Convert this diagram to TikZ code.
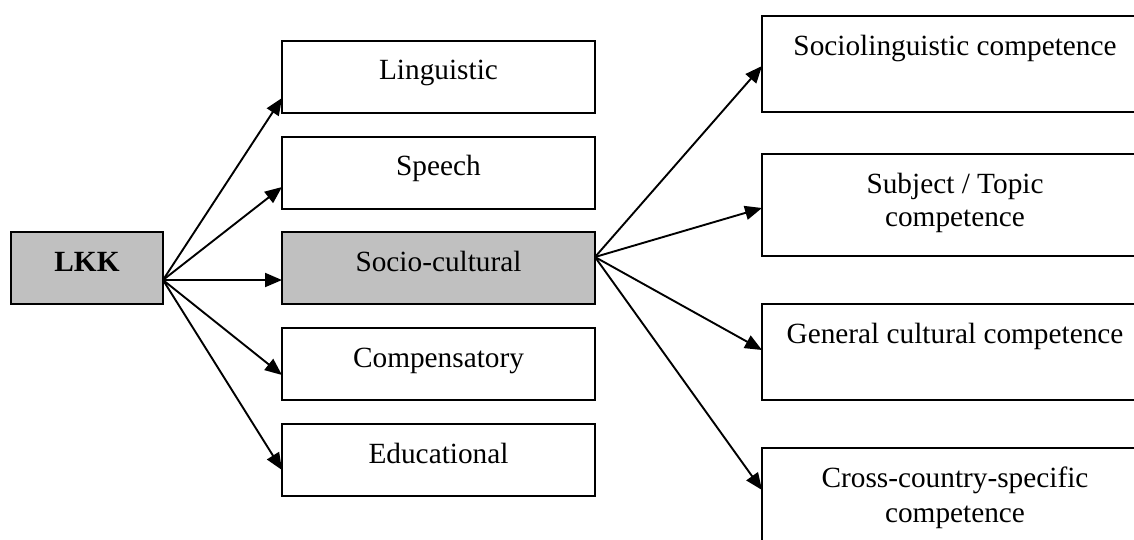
\documentclass[tikz,border=0pt]{standalone}
\usepackage{fontspec}
\setmainfont{Liberation Serif}
\usetikzlibrary{arrows.meta,calc}
\definecolor{boxgray}{HTML}{C0C0C0}
\begin{document}
\begin{tikzpicture}[x=1pt,y=-1pt,
  box/.style={draw=black, line width=2pt, rectangle, inner sep=0pt, outer sep=0pt},
  midbox/.style={box, minimum width=313pt, minimum height=72pt},
  rbox/.style={box, minimum width=386pt},
  shaded/.style={fill=boxgray},
  txt/.style={anchor=base, inner sep=0pt, outer sep=0pt, font=\fontsize{29.3}{34}\selectfont},
  arr/.style={line width=1.9pt, -{Triangle[length=17pt,width=14pt]}}]
\useasboundingbox (0,0) rectangle (1134,539);
\clip (0,0) rectangle (1134,539);
% left box
\node[box, shaded, minimum width=152pt, minimum height=72pt] (lkk) at (87,268) {};
\node[txt] (tlkk) at (87,271) {\textbf{LKK}};
% middle boxes
\node[midbox] (ling) at (438.5,76.5) {};
\node[midbox] (speech) at (438.5,172.5) {};
\node[midbox, shaded] (socio) at (438.5,268) {};
\node[midbox] (comp) at (438.5,364) {};
\node[midbox] (edu) at (438.5,460) {};
\node[txt] (tling) at (438.5,79.5) {Linguistic};
\node[txt] (tspeech) at (438.5,175.5) {Speech};
\node[txt] (tsocio) at (438.5,271) {Socio-cultural};
\node[txt] (tcomp) at (438.5,367) {Compensatory};
\node[txt] (tedu) at (438.5,463) {Educational};
% right boxes
\node[rbox, minimum height=96pt] (sl) at (955,64) {};
\node[rbox, minimum height=102pt] (st) at (955,205) {};
\node[rbox, minimum height=96pt] (gc) at (955,352) {};
\node[rbox, minimum height=102pt] (cc) at (955,499) {};
\node[txt] (tsl) at (955,55) {Sociolinguistic competence};
\node[txt] (tst1) at (955,193) {Subject / Topic};
\node[txt] (tst2) at (955,226) {competence};
\node[txt] (tgc) at (955,343) {General cultural competence};
\node[txt] (tcc1) at (955,487) {Cross-country-specific};
\node[txt] (tcc2) at (955,522) {competence};
% arrows from LKK
\draw[arr] ([yshift=-12pt]lkk.east) -- ([yshift=-21.5pt]ling.west);
\draw[arr] ([yshift=-12pt]lkk.east) -- ([yshift=-14.5pt]speech.west);
\draw[arr] ([yshift=-12pt]lkk.east) -- ([yshift=-12pt]socio.west);
\draw[arr] ([yshift=-12pt]lkk.east) -- ([yshift=-11pt]comp.west);
\draw[arr] ([yshift=-12pt]lkk.east) -- ([yshift=-10pt]edu.west);
% arrows from Socio-cultural
\draw[arr] ([yshift=11pt]socio.east) -- ([yshift=-2pt]sl.west);
\draw[arr] ([yshift=11pt]socio.east) -- ([yshift=-3pt]st.west);
\draw[arr] ([yshift=11pt]socio.east) -- ([yshift=2pt]gc.west);
\draw[arr] ([yshift=11pt]socio.east) -- ([yshift=9pt]cc.west);
\end{tikzpicture}
\end{document}
